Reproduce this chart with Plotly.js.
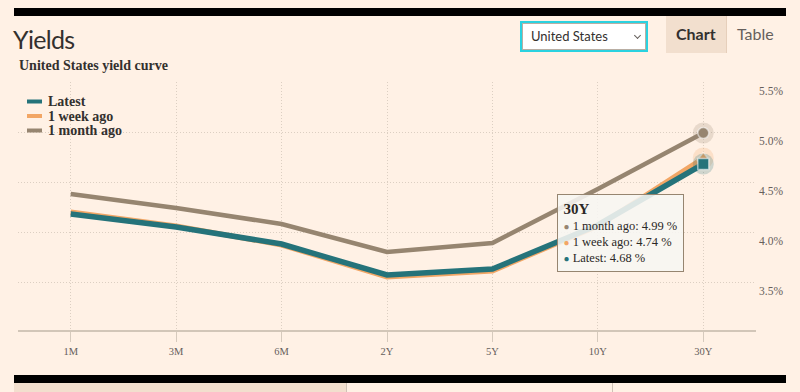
<!DOCTYPE html>
<html>
<head>
<meta charset="utf-8">
<script src="https://cdn.plot.ly/plotly-3.0.1.min.js"></script>
<style>
  html, body { margin:0; padding:0; background:#FFF1E5; width:800px; height:392px; overflow:hidden; }
  #chart { position:absolute; left:0; top:0; width:800px; height:392px; }
  .ov { position:absolute; pointer-events:none; }
  .bar { background:#000; }
  #yields { left:13px; top:24px; font-family:Lato, "Open Sans", sans-serif; font-weight:400; font-size:25px; color:#33302E; letter-spacing:-0.7px; line-height:30px; }
  #dropdown { left:520px; top:21px; width:124px; height:27px; border:2px solid #2AD2E0; background:#fff; }
  #dropdown .inner { position:absolute; left:0; top:0; right:0; bottom:0; border:1px solid #B9AEA3; }
  #dropdown .txt { position:absolute; left:9px; top:5px; font-family:Lato, sans-serif; font-size:13px; color:#33302E; }
  #dropdown .chev { position:absolute; left:113px; top:10px; width:4px; height:4px; border-right:1.3px solid #66605C; border-bottom:1.3px solid #66605C; transform:rotate(45deg); }
  #tabChart { left:666px; top:16px; width:60px; height:37px; background:#F2DFCE; border-right:1px solid #E6CFBB; }
  #tabChart span, #tabTable span { position:absolute; top:8px; font-family:Lato, sans-serif; font-size:16px; }
  #tabChart span { left:10px; font-weight:700; color:#33302E; }
  #tabTable { left:727px; top:16px; width:58px; height:37px; }
  #tabTable span { left:10px; color:#66605C; }
</style>
</head>
<body>
<div id="chart"></div>
<div class="ov bar" style="left:14px;top:8px;width:772px;height:8px;"></div>
<div class="ov" id="yields">Yields</div>
<div class="ov" id="dropdown"><div class="inner"></div><div class="txt">United States</div><div class="chev"></div></div>
<div class="ov" id="tabChart"><span>Chart</span></div>
<div class="ov" id="tabTable"><span>Table</span></div>
<div class="ov bar" style="left:14px;top:375px;width:772px;height:8px;"></div>
<div class="ov" style="left:14px;top:383px;width:332px;height:9px;background:#F2DFCE;"></div>
<div class="ov" style="left:346px;top:383px;width:1px;height:9px;background:#CFC2B6;"></div>
<div class="ov" style="left:612px;top:383px;width:1px;height:9px;background:#CFC2B6;"></div>
<script>
// ---- data ----
const categories = ['1M', '3M', '6M', '2Y', '5Y', '10Y', '30Y'];
const latest     = [4.18, 4.05, 3.88, 3.57, 3.63, 4.07, 4.68];
const weekAgo    = [4.20, 4.06, 3.87, 3.55, 3.61, 4.06, 4.74];
const monthAgo   = [4.38, 4.24, 4.08, 3.80, 3.89, 4.43, 4.99];
const seriesNames = ['Latest', '1 week ago', '1 month ago'];
const yTickVals = [3.5, 4.0, 4.5, 5.0, 5.5];
const hoverCategory = '30Y';
const chartSubtitle = 'United States yield curve';

// ---- styling ----
const colLatest = '#25737A', colWeek = '#F2A665', colMonth = '#968570';
const serif = '"Liberation Serif", "DejaVu Serif", serif';
const ML = 18, MR = 44, MT = 82, MB = 62, W = 800, H = 392;
const PW = W - ML - MR, PH = H - MT - MB;
const px2x = p => (p - ML) / PW;
const px2y = p => (MT + PH - p) / PH;

const hi = categories.indexOf(hoverCategory);
const seriesVals = [latest, weekAgo, monthAgo];
const seriesCols = [colLatest, colWeek, colMonth];

function lineTrace(vals, col, w) {
  return { type:'scatter', mode:'lines', x:categories, y:vals, line:{color:col, width:w, shape:'linear'}, hoverinfo:'skip', showlegend:false };
}
function haloTrace(vals, col) {
  return { type:'scatter', mode:'markers', x:[categories[hi]], y:[vals[hi]], marker:{size:21, color:col, opacity:0.22, line:{width:0}}, hoverinfo:'skip', showlegend:false, cliponaxis:false };
}
function markTrace(vals, col, sym, size) {
  return { type:'scatter', mode:'markers', x:[categories[hi]], y:[vals[hi]], marker:{symbol:sym, size:size, color:col, line:{color:'rgba(255,255,255,0.55)', width:1.5}}, hoverinfo:'skip', showlegend:false, cliponaxis:false };
}

const traces = [
  lineTrace(monthAgo, colMonth, 4.5),
  lineTrace(weekAgo, colWeek, 5),
  lineTrace(latest, colLatest, 5.5),
  haloTrace(monthAgo, colMonth), markTrace(monthAgo, colMonth, 'circle', 11),
  haloTrace(weekAgo, colWeek), markTrace(weekAgo, colWeek, 'triangle-up', 11),
  haloTrace(latest, colLatest), markTrace(latest, colLatest, 'square', 11)
];

// legend (custom, tight spacing)
const legendY = [101.5, 116, 130.5];
const shapes = [], annotations = [];
seriesNames.forEach((n, i) => {
  shapes.push({ type:'line', xref:'paper', yref:'paper', x0:px2x(27), x1:px2x(42), y0:px2y(legendY[i]), y1:px2y(legendY[i]), line:{color:seriesCols[i], width:4} });
  annotations.push({ xref:'paper', yref:'paper', x:px2x(46), y:px2y(legendY[i]), xanchor:'left', yanchor:'middle', showarrow:false, text:'<b>' + n + '</b>', font:{family:serif, size:14, color:'#33302E'} });
});

// tooltip built from data
const order = [2, 1, 0];
let tip = '<b style="font-size:15px">' + hoverCategory + '</b>';
order.forEach(i => {
  tip += '<br><span style="color:' + seriesCols[i] + ';font-size:10px">●</span> ' + seriesNames[i] + ': ' + seriesVals[i][hi].toFixed(2) + ' %';
});
annotations.push({ xref:'paper', yref:'paper', x:px2x(556.5), y:px2y(193.5), xanchor:'left', yanchor:'top', showarrow:false, align:'left', text:tip,
  font:{family:serif, size:12.5, color:'#2B2826'}, bgcolor:'rgba(247,246,243,0.88)', bordercolor:'#968570', borderwidth:1, borderpad:5.5 });

const layout = {
  width:W, height:H,
  margin:{l:ML, r:MR, t:MT, b:MB, pad:0},
  paper_bgcolor:'#FFF1E5', plot_bgcolor:'#FFF1E5',
  showlegend:false, hovermode:false,
  title:{ text:'<b>' + chartSubtitle + '</b>', x:19/W, xanchor:'left', xref:'container', y:(H-65)/H, yanchor:'middle', yref:'container', font:{family:serif, size:14, color:'#33302E'} },
  xaxis:{ type:'category', range:[-0.5, categories.length - 0.5], showgrid:true, gridcolor:'#DCCFC2', gridwidth:1, griddash:'1px,2px',
    ticks:'outside', ticklen:10, tickwidth:1, tickcolor:'#D6CABD', showline:true, linecolor:'#D2C6B8', linewidth:2, zeroline:false,
    tickfont:{family:serif, size:10.5, color:'#66605C'}, fixedrange:true },
  yaxis:{ range:[3.02, 5.5], side:'right', tickvals:yTickVals, ticktext:yTickVals.map(v => v.toFixed(1) + '%'),
    showgrid:true, gridcolor:'#DCCFC2', gridwidth:1, griddash:'1px,2px', ticks:'', zeroline:false, showline:false,
    ticklabelshift:9, ticklabelstandoff:2, tickfont:{family:serif, size:11.5, color:'#66605C'}, fixedrange:true },
  shapes:shapes, annotations:annotations
};
Plotly.newPlot('chart', traces, layout, {displayModeBar:false, staticPlot:true});
</script>
</body>
</html>
